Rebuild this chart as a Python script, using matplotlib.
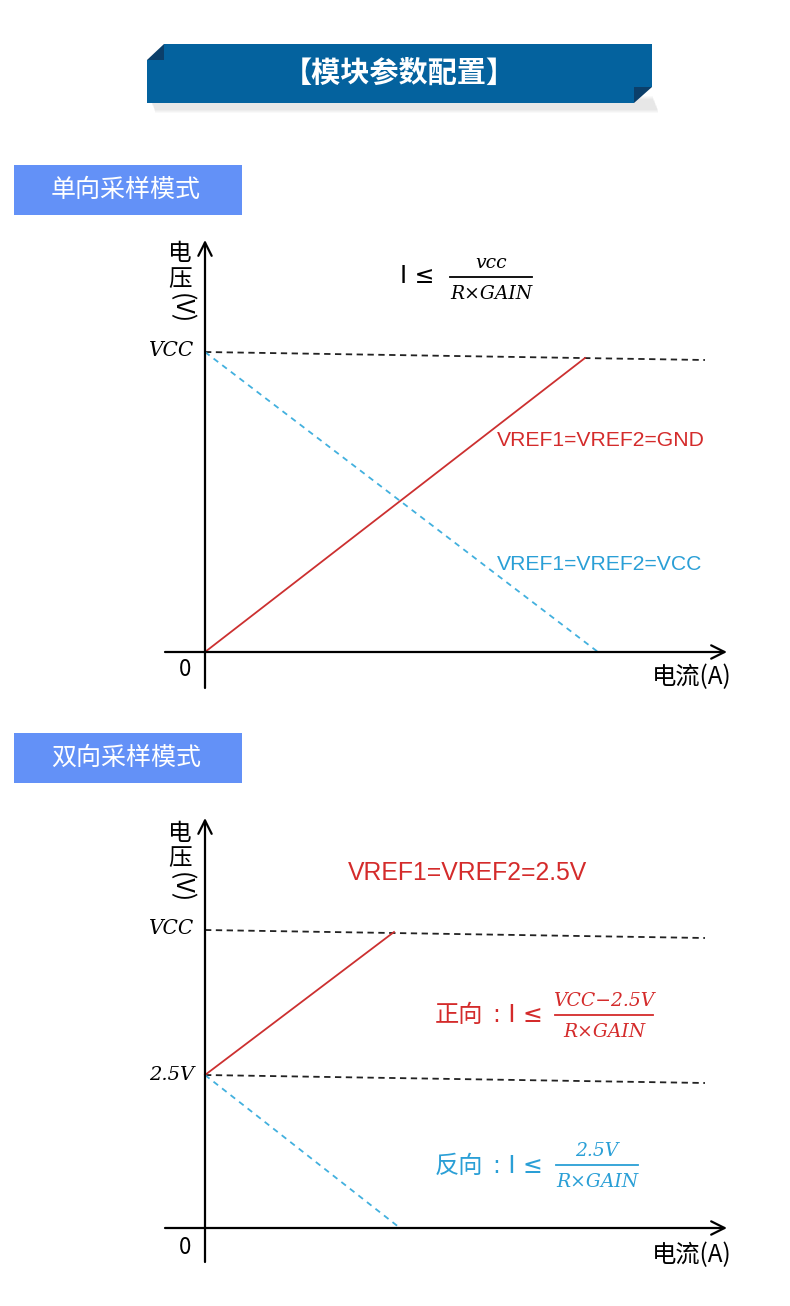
import matplotlib
matplotlib.use('Agg')
import matplotlib.pyplot as plt
from matplotlib.patches import Polygon, Rectangle

CJK = ['Noto Sans CJK SC', 'DejaVu Sans']
LATIN_FIRST = ['DejaVu Sans', 'Noto Sans CJK SC']
plt.rcParams['font.family'] = CJK

W, H = 790, 1306
RED = '#d42b2b'
BLUE = '#2a9fd6'
LINE_RED = '#cc3030'
LINE_BLUE = '#42b0de'
BANNER = '#04629e'
BANNER_DARK = '#0b3f6a'
TAG = '#6391f7'

#---------------------------------------------------------------------------
# data  (units: 1 = 100 px of the original drawing, origin at the axes cross)
#---------------------------------------------------------------------------
# single direction sampling
uni_gnd_x = [0.0, 3.80]
uni_gnd_y = [0.0, 2.94]
uni_vcc_x = [0.0, 3.93]
uni_vcc_y = [3.00, 0.0]
uni_ref_x = [0.0, 5.00]
uni_ref_y = [3.00, 2.92]

# bidirectional sampling
bi_pos_x = [0.0, 1.89]
bi_pos_y = [1.53, 2.96]
bi_neg_x = [0.0, 1.95]
bi_neg_y = [1.53, 0.0]
bi_vcc_x = [0.0, 5.00]
bi_vcc_y = [2.98, 2.90]
bi_mid_x = [0.0, 5.00]
bi_mid_y = [1.53, 1.45]

fig = plt.figure(figsize=(W / 100, H / 100), dpi=100)
fig.patch.set_facecolor('white')

# overlay in pixel coordinates for the decoration and text
ov = fig.add_axes([0, 0, 1, 1])
ov.set_xlim(0, W)
ov.set_ylim(H, 0)
ov.axis('off')


def panel(ox, oy, left, right, top, bottom):
    ax = fig.add_axes([left / W, 1 - bottom / H, (right - left) / W, (bottom - top) / H])
    ax.set_xlim((left - ox) / 100, (right - ox) / 100)
    ax.set_ylim((oy - bottom) / 100, (oy - top) / 100)
    ax.axis('off')
    return ax


def axes_arrows(ax, ytop, ybot, xleft, xright):
    arr = dict(arrowstyle='->', lw=1.6, color='black', mutation_scale=24, shrinkA=0, shrinkB=0)
    ax.annotate('', xy=(0, ytop), xytext=(0, ybot), arrowprops=arr)
    ax.annotate('', xy=(xright, 0), xytext=(xleft, 0), arrowprops=arr)


def ylabel(x, y0):
    ov.text(x, y0, '电', fontsize=17, ha='center', va='center')
    ov.text(x, y0 + 25, '压', fontsize=17, ha='center', va='center')
    ov.text(x + 1, y0 + 55, '(V)', fontsize=18, ha='center', va='center', rotation=-90)


def frac(x, y, num, den, color, half):
    ov.text(x, y - 14, num, fontsize=13.5, family='DejaVu Serif', style='italic',
            color=color, ha='center', va='center')
    ov.text(x, y + 17, den, fontsize=13.5, family='DejaVu Serif', style='italic',
            color=color, ha='center', va='center')
    ov.plot([x - half, x + half], [y, y], color=color, lw=1.3)


# ---- banner ----
for i in range(14):
    ov.add_patch(Rectangle((150 + i * 0.4, 96 + i), 503, 4, color='black', alpha=0.022, lw=0))
ov.add_patch(Polygon([(147, 60), (164, 60), (164, 44), (652, 44), (652, 87), (634, 87),
                      (634, 103), (147, 103)], closed=True, color=BANNER, lw=0))
ov.add_patch(Polygon([(147, 60), (164, 44), (164, 60)], closed=True, color=BANNER_DARK, lw=0))
ov.add_patch(Polygon([(634, 87), (652, 87), (634, 103)], closed=True, color=BANNER_DARK, lw=0))
ov.text(399, 73, '【模块参数配置】', fontsize=21, color='white', ha='center', va='center',
        weight='bold')

# ---- section tags ----
ov.add_patch(Rectangle((14, 165), 228, 50, color=TAG, lw=0))
ov.text(126, 190, '单向采样模式', fontsize=18, color='white', ha='center', va='center')
ov.add_patch(Rectangle((14, 733), 228, 50, color=TAG, lw=0))
ov.text(126, 758, '双向采样模式', fontsize=18, color='white', ha='center', va='center')

#---------------------------------------------------------------------------
# panel 1 : single direction
#---------------------------------------------------------------------------
ax1 = panel(205, 652, 140, 760, 230, 700)
axes_arrows(ax1, 4.12, -0.36, -0.40, 5.22)
ax1.plot(uni_ref_x, uni_ref_y, color='#222222', lw=1.3, ls=(0, (3.5, 2.5)))
ax1.plot(uni_vcc_x, uni_vcc_y, color=LINE_BLUE, lw=1.3, ls=(0, (3.2, 2.8)))
ax1.plot(uni_gnd_x, uni_gnd_y, color=LINE_RED, lw=1.3)

ylabel(180, 254)
ov.text(172, 351, 'VCC', fontsize=14.5, family='DejaVu Serif', style='italic',
        ha='center', va='center')
ov.text(185, 670, '0', fontsize=16, ha='center', va='center')
ov.text(692, 677, '电流(A)', fontsize=17.5, ha='center', va='center')
ov.text(417, 276, 'I ≤', fontsize=17, family=LATIN_FIRST, ha='center', va='center')
frac(491, 277, 'vcc', 'R×GAIN', 'black', 41)
ov.text(497, 441, 'VREF1=VREF2=GND', fontsize=15.2, family='Liberation Sans',
        color=RED, ha='left', va='center')
ov.text(497, 565, 'VREF1=VREF2=VCC', fontsize=15.2, family='Liberation Sans',
        color=BLUE, ha='left', va='center')

#---------------------------------------------------------------------------
# panel 2 : bidirectional
#---------------------------------------------------------------------------
ax2 = panel(205, 1228, 140, 760, 810, 1275)
axes_arrows(ax2, 4.10, -0.34, -0.40, 5.22)
ax2.plot(bi_vcc_x, bi_vcc_y, color='#222222', lw=1.3, ls=(0, (3.5, 2.5)))
ax2.plot(bi_mid_x, bi_mid_y, color='#222222', lw=1.3, ls=(0, (3.5, 2.5)))
ax2.plot(bi_neg_x, bi_neg_y, color=LINE_BLUE, lw=1.3, ls=(0, (3.2, 2.8)))
ax2.plot(bi_pos_x, bi_pos_y, color=LINE_RED, lw=1.3)

ylabel(180, 833)
ov.text(172, 929, 'VCC', fontsize=14.5, family='DejaVu Serif', style='italic',
        ha='center', va='center')
ov.text(172, 1075, '2.5V', fontsize=14, family='DejaVu Serif', style='italic',
        ha='center', va='center')
ov.text(185, 1248, '0', fontsize=16, ha='center', va='center')
ov.text(692, 1255, '电流(A)', fontsize=17.5, ha='center', va='center')
ov.text(468, 873, 'VREF1=VREF2=2.5V', fontsize=17.8, family='Liberation Sans',
        color=RED, ha='center', va='center')

ov.text(459, 1015, '正向', fontsize=17.5, color=RED, ha='center', va='center')
ov.text(518, 1015, ': I ≤', fontsize=17, family=LATIN_FIRST, color=RED, ha='center', va='center')
frac(604, 1015, 'VCC−2.5V', 'R×GAIN', RED, 49)
ov.text(459, 1166, '反向', fontsize=17.5, color=BLUE, ha='center', va='center')
ov.text(518, 1166, ': I ≤', fontsize=17, family=LATIN_FIRST, color=BLUE, ha='center', va='center')
frac(597, 1165, '2.5V', 'R×GAIN', BLUE, 41)

fig.savefig('out.png', dpi=100, facecolor='white')
